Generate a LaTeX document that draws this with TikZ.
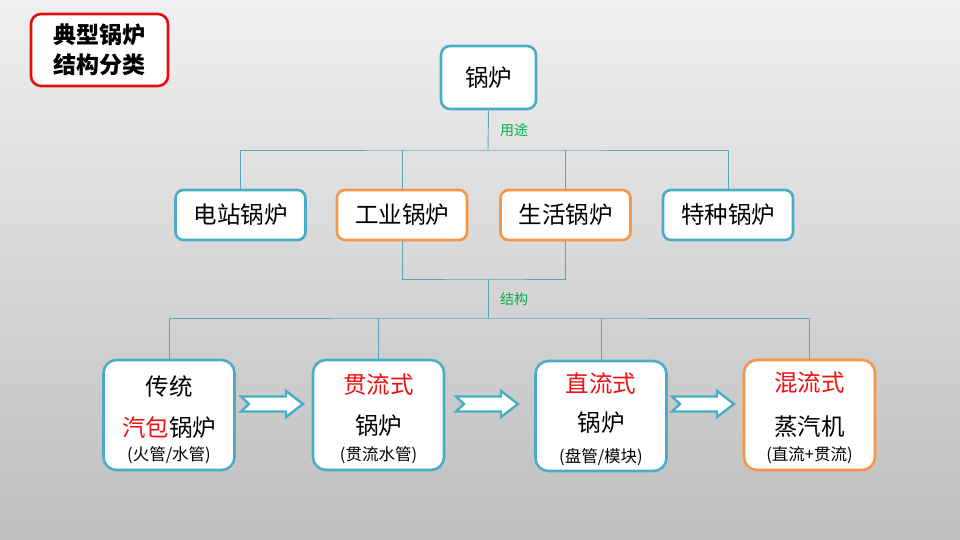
\documentclass[tikz,border=0pt]{standalone}
\usepackage{fontspec}
\setmainfont{Noto Sans CJK SC}
\usetikzlibrary{calc}
\definecolor{tealb}{HTML}{4BACC6}
\definecolor{orng}{HTML}{F79646}
\definecolor{redt}{HTML}{F01010}
\definecolor{redb}{HTML}{E01010}
\definecolor{grn}{HTML}{00B050}
\definecolor{connc}{HTML}{5BA6BE}
\definecolor{bgtop}{HTML}{F0F0F0}
\definecolor{bgbot}{HTML}{BEBEBE}
\newcommand\blkarrow[2]{%
  \draw[blockarrow] (#1,#2) ++(0,-7.5) -- ++(45,0) -- ++(0,-5.5) -- ++(17,13) -- ++(-17,13) -- ++(0,-5.5) -- ++(-45,0) -- ++(8,-7.5) -- cycle;}
\begin{document}
\begin{tikzpicture}[x=1pt,y=-1pt,
  box/.style={draw=tealb, line width=2.6pt, fill=white, rounded corners=8pt, inner sep=0pt},
  obox/.style={box, draw=orng},
  connector/.style={draw=connc, line width=0.9pt},
  lbl/.style={text=grn, font=\fontsize{14}{14}\selectfont, inner sep=0pt},
  big/.style={font=\fontsize{23.5}{24}\selectfont, inner sep=0pt},
  small/.style={font=\fontsize{16.5}{17}\selectfont, inner sep=0pt},
  blockarrow/.style={draw=tealb, fill=white, line width=2.4pt, line join=miter}
]
\useasboundingbox (0,0) rectangle (960,540);
\shade[top color=bgtop, bottom color=bgbot] (0,0) rectangle (960,540);

% title
\node[box, draw=redb, rounded corners=10pt, minimum width=137pt, minimum height=72pt,
      align=center, font=\fontsize{23}{30}\selectfont\bfseries] (title) at (99.5,50) {典型锅炉\\结构分类};

% top
\node[box, rounded corners=9pt, minimum width=95pt, minimum height=63pt, big] (top) at (488.5,77.5) {锅炉};

% second row
\node[box, minimum width=130pt, minimum height=50pt, big] (s1) at (240.5,215) {电站锅炉};
\node[obox, minimum width=130pt, minimum height=50pt, big] (s2) at (402,215) {工业锅炉};
\node[obox, minimum width=130pt, minimum height=50pt, big] (s3) at (565.5,215) {生活锅炉};
\node[box, minimum width=130pt, minimum height=50pt, big] (s4) at (728,215) {特种锅炉};

% bottom row
\node[box, rounded corners=13pt, minimum width=131pt, minimum height=110pt] (b1) at (169,415) {};
\node[box, rounded corners=13pt, minimum width=131pt, minimum height=110pt] (b2) at (378.5,415) {};
\node[box, rounded corners=13pt, minimum width=131pt, minimum height=110pt] (b3) at (601,416) {};
\node[obox, rounded corners=13pt, minimum width=131pt, minimum height=110pt] (b4) at (809.5,415) {};

\node[big] (b1a) at ($(b1.center)+(0,-28)$) {传统};
\node[big] (b1b) at ($(b1.center)+(0,13)$) {\textcolor{redt}{汽包}锅炉};
\node[small] (b1c) at ($(b1.center)+(0,40)$) {(火管/水管)};

\node[big, text=redt] (b2a) at ($(b2.center)+(0,-30)$) {贯流式};
\node[big] (b2b) at ($(b2.center)+(0,11)$) {锅炉};
\node[small] (b2c) at ($(b2.center)+(0,40)$) {(贯流水管)};

\node[big, text=redt] (b3a) at ($(b3.center)+(0,-32)$) {直流式};
\node[big] (b3b) at ($(b3.center)+(0,7)$) {锅炉};
\node[small] (b3c) at ($(b3.center)+(0,41)$) {(盘管/模块)};

\node[big, text=redt] (b4a) at ($(b4.center)+(0,-32)$) {混流式};
\node[big] (b4b) at ($(b4.center)+(0,12)$) {蒸汽机};
\node[small] (b4c) at ($(b4.center)+(0,40)$) {(直流+贯流)};

% connectors
\coordinate (j1) at (488,150);
\coordinate (j2) at (488,279);
\coordinate (j3) at (488,318);
\draw[connector] (top.south) -- (j1);
\draw[connector] (s1.north) |- (j1) -| (s4.north);
\draw[connector] (s2.north) -- (s2.north |- j1);
\draw[connector] (s3.north) -- (s3.north |- j1);
\draw[connector] (s2.south) |- (j2) -| (s3.south);
\draw[connector] (j2) -- (j3);
\draw[connector] (b1.north) |- (j3) -| (b4.north);
\draw[connector] (b2.north) -- (b2.north |- j3);
\draw[connector] (b3.north) -- (b3.north |- j3);

\node[lbl] (l1) at (514,130) {用途};
\node[lbl] (l2) at (514,299) {结构};

% block arrows
\blkarrow{241}{404}
\blkarrow{456}{404}
\blkarrow{672}{404}
\end{tikzpicture}
\end{document}
